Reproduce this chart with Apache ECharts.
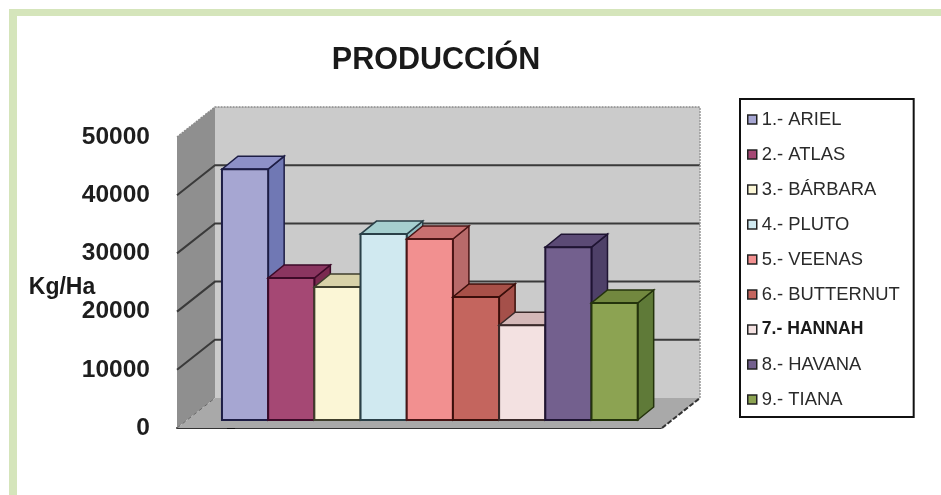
<!DOCTYPE html>
<html><head><meta charset="utf-8">
<script src="https://cdn.jsdelivr.net/npm/echarts@6/dist/echarts.min.js"></script>
<style>html,body{margin:0;padding:0;background:#fff}#c{width:941px;height:495px}</style>
</head><body><div id="c"></div>
<script>
const categories = ['1.- ARIEL','2.- ATLAS','3.- BÁRBARA','4.- PLUTO','5.- VEENAS','6.- BUTTERNUT','7.- HANNAH','8.- HAVANA','9.- TIANA'];
const production = [43100,24400,22850,31950,31100,21150,16300,29700,20100];
const yTicks = [0,10000,20000,30000,40000,50000];
const frontColors = ['#a6a6d2','#a54874','#fbf6d6','#d0e9f0','#f29090','#c4655e','#f3e1e1','#73608e','#8ca352'];
const topColors = ['#8d90c8','#8a3560','#d8d2a8','#a5cfcf','#c87070','#a85048','#d4b8b8','#5b4a75','#72883f'];
const sideColors = ['#7078b4','#7a2a50','#c9c39a','#8fbcc0','#b86a6a','#a5504a','#c4a6a6','#4e4068','#5f7a38'];
const strokeColors = ['#1d1d45','#3d0a28','#3f3f2c','#2a4048','#4a1515','#3a0e0a','#3a2a2a','#1f1433','#24330c'];

const WALL_DX = 38, WALL_DY = -30;
const BAR_SHIFT_X = 10, BAR_SHIFT_Y = -8, BAR_DX = 16, BAR_DY = -13;
const X_MIN = -1.257, X_MAX = 9.243;

function poly(points, fill, stroke, width, dash) {
  return {type:'polygon', shape:{points}, style:{fill, stroke:stroke||'none', lineWidth:width||0, lineDash:dash||null}};
}
function line(points, stroke, width, dash) {
  return {type:'polyline', shape:{points}, style:{fill:'none', stroke, lineWidth:width, lineDash:dash||null}};
}
function renderWalls(params, api) {
  const a = api.coord([X_MIN,0]), b = api.coord([X_MAX,0]), t = api.coord([X_MIN,50000]);
  const back = (p)=>[p[0]+WALL_DX,p[1]+WALL_DY];
  const kids = [
    poly([back(a),back(b),back([b[0],t[1]]),back(t)],'#cbcbcb'),
    poly([a,back(a),back(t),t],'#8f8f8f'),
    poly([a,b,back(b),back(a)],'#a9a9a9')
  ];
  yTicks.forEach(v=>{
    if (v===0) return;
    const l = api.coord([X_MIN,v]), r = api.coord([X_MAX,v]);
    const col = v===50000 ? '#8a8a8a' : '#3a3a3a';
    const dash = v===50000 ? [2,1] : null;
    kids.push(line([l,back(l),back(r)],col,v===50000?1.5:2,dash));
  });
  kids.push(line([a,back(a)],'#666',1,[4,3]));
  kids.push(line([back(b),back([b[0],t[1]])],'#999',1.5,[2,1]));
  kids.push(line([b,back(b)],'#333',2,[5,2]));
  return {type:'group', children:kids};
}
function renderBar(params, api) {
  const i = api.value(0), v = api.value(1), k = params.seriesIndex-1;
  const shift = p=>[p[0]+BAR_SHIFT_X,p[1]+BAR_SHIFT_Y];
  const bl = shift(api.coord([i-0.5,0])), br = shift(api.coord([i+0.5,0]));
  const tl = shift(api.coord([i-0.5,v])), tr = shift(api.coord([i+0.5,v]));
  const d = p=>[p[0]+BAR_DX,p[1]+BAR_DY];
  const s = strokeColors[k];
  return {type:'group', children:[
    poly([br,d(br),d(tr),tr],sideColors[k],s,1.5),
    poly([tl,tr,d(tr),d(tl)],topColors[k],s,1.5),
    poly([bl,br,tr,tl],frontColors[k],s,2)
  ]};
}
const FONT = '"Liberation Sans", Arial, sans-serif';
const series = [{type:'custom', silent:true, z:1, data:[[0,0]], renderItem:renderWalls, encode:{x:0,y:1}}];
categories.forEach((name,i)=>{
  series.push({type:'custom', name, z:3, data:[[i,production[i]]], renderItem:renderBar, encode:{x:0,y:1},
    itemStyle:{color:frontColors[i]}});
});
const chart = echarts.init(document.getElementById('c'),null,{renderer:'canvas'});
chart.setOption({
  animation:false,
  backgroundColor:'#fff',
  graphic:[
    {type:'rect',shape:{x:9,y:9,width:932,height:7},style:{fill:'#d5e5bb'},silent:true},
    {type:'rect',shape:{x:9,y:9,width:8,height:486},style:{fill:'#d5e5bb'},silent:true},
    {type:'text',x:62,y:288,silent:true,style:{text:'Kg/Ha',fill:'#1a1a1a',font:'bold 23px "Liberation Sans", Arial, sans-serif',textAlign:'center',textVerticalAlign:'middle'}}
  ],
  title:{text:'PRODUCCIÓN',left:431,top:40,textAlign:'center',
    textStyle:{fontFamily:FONT,fontSize:30.5,fontWeight:'bold',color:'#1a1a1a'}},
  grid:{left:177,top:137,width:485,height:291},
  xAxis:{type:'value',min:X_MIN,max:X_MAX,splitLine:{show:false},axisTick:{show:false},axisLabel:{show:false},
    axisLine:{show:true,onZero:false,lineStyle:{color:'#333',width:2,type:[4,1]}}},
  yAxis:{type:'value',min:0,max:50000,interval:10000,splitLine:{show:false},
    axisLine:{show:true,lineStyle:{color:'#222',width:2}},
    axisTick:{show:true,length:8,lineStyle:{color:'#111',width:2}},
    axisLabel:{margin:27,fontFamily:FONT,fontSize:24.5,color:'#1e1e1e',fontWeight:'bold',formatter:v=>String(v)}},
  legend:{
    orient:'vertical',left:740,top:99,icon:'rect',itemWidth:9,itemHeight:9,itemGap:16,
    padding:[11,14,8,7],borderColor:'#111',borderWidth:2,backgroundColor:'#fff',
    selectedMode:false,
    data:categories.map((name,i)=>({name,itemStyle:{color:frontColors[i],borderColor:'#222',borderWidth:1.5}})),
    formatter:n=>n===categories[6]?'{b|'+n+'}':n,
    textStyle:{fontFamily:FONT,fontSize:18.4,color:'#2a2a2a',padding:[0,0,0,0],lineHeight:19,
      rich:{b:{fontFamily:FONT,fontSize:17.6,fontWeight:'bold',color:'#1a1a1a'}}}
  },
  series
});
</script></body></html>
